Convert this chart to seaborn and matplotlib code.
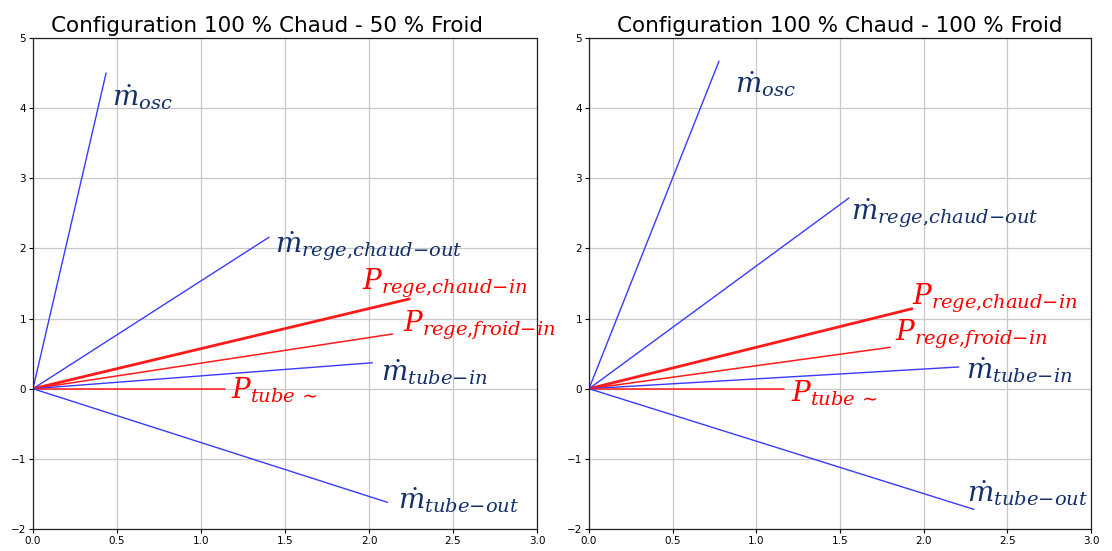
import matplotlib
matplotlib.use('Agg')
import matplotlib.pyplot as plt
import seaborn as sns
import numpy as np

# phasor end points
vector_names = ["m_osc", "m_rege_chaud_out", "P_rege_chaud_in", "P_rege_froid_in",
                "m_tube_in", "P_tube", "m_tube_out"]
vector_labels = [r"$\dot{m}_{osc}$", r"$\dot{m}_{rege{,}chaud{-}out}$", r"$P_{rege{,}chaud{-}in}$",
                 r"$P_{rege{,}froid{-}in}$", r"$\dot{m}_{tube{-}in}$", r"$P_{tube\,\sim}$",
                 r"$\dot{m}_{tube{-}out}$"]
is_pressure = [False, False, True, True, False, True, False]

x_50  = [0.435, 1.405, 2.24, 2.14, 2.02, 1.14, 2.11]
y_50  = [4.50, 2.16, 1.28, 0.78, 0.37, 0.0, -1.62]
x_100 = [0.777, 1.554, 1.93, 1.80, 2.21, 1.166, 2.30]
y_100 = [4.67, 2.72, 1.14, 0.59, 0.31, 0.0, -1.72]

# label anchor positions (left / centre of text)
lx_50  = [0.47, 1.44, 1.96, 2.20, 2.07, 1.18, 2.17]
ly_50  = [4.16, 2.03, 1.50, 0.91, 0.24, -0.02, -1.59]
lx_100 = [0.874, 1.566, 1.93, 1.83, 2.25, 1.21, 2.26]
ly_100 = [4.34, 2.50, 1.29, 0.77, 0.26, -0.06, -1.49]

titles = ["Configuration 100 % Chaud - 50 % Froid", "Configuration 100 % Chaud - 100 % Froid"]

sns.set_theme(style="ticks")
plt.rcParams['font.family'] = ['DejaVu Sans']
plt.rcParams['mathtext.fontset'] = 'dejavuserif'

NAVY = "#14306a"
fig = plt.figure(figsize=(11.12, 5.51), dpi=100)
ax1 = fig.add_axes([33/1112, 22/551, 504/1112, 491/551])
ax2 = fig.add_axes([589/1112, 22/551, 502/1112, 491/551])

panels = [(ax1, x_50, y_50, lx_50, ly_50, titles[0], 0.464),
          (ax2, x_100, y_100, lx_100, ly_100, titles[1], 0.5)]

for ax, xs, ys, lxs, lys, title, tx in panels:
    for i, name in enumerate(vector_names):
        if is_pressure[i]:
            col = "#ff1a1a"
            lw = 2.0 if name == "P_rege_chaud_in" else 1.1
        else:
            col = "#3a3aff"
            lw = 1.0
        sns.lineplot(x=[0, xs[i]], y=[0, ys[i]], ax=ax, color=col, lw=lw, sort=False)
        ax.text(lxs[i], lys[i], vector_labels[i], fontsize=20, va="center", ha="left",
                color="#ff0000" if is_pressure[i] else NAVY)
    ax.set_xlim(0, 3)
    ax.set_ylim(-2, 5)
    ax.set_xticks(np.arange(0, 3.01, 0.5))
    ax.set_yticks(np.arange(-2, 6, 1))
    ax.tick_params(labelsize=7.5, length=3, width=0.8, color="black",
                   labelcolor="black", pad=2)
    ax.grid(True, color="#c8c8c8", lw=0.9)
    for s in ax.spines.values():
        s.set_color("#222222")
        s.set_linewidth(0.9)
    ax.set_xlabel("")
    ax.set_ylabel("")
    ax.set_title(title, fontsize=15.5, pad=4, color="black", x=tx)

fig.savefig("out.png", dpi=100)
